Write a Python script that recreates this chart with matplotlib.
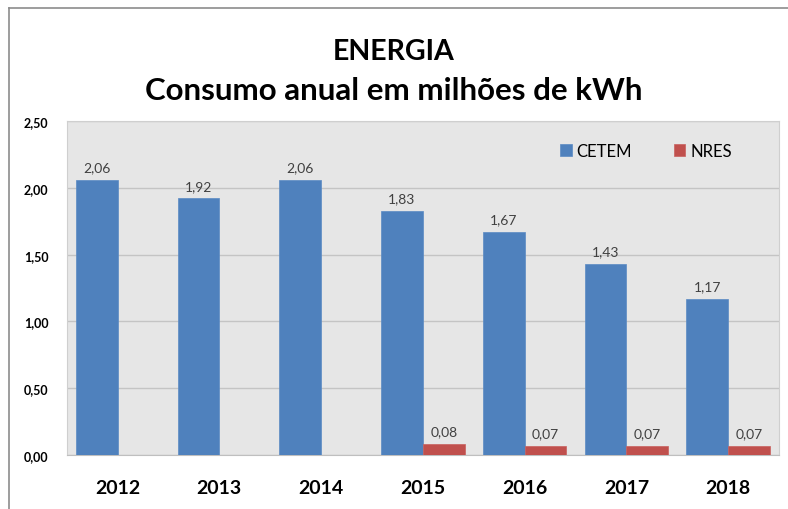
import matplotlib.pyplot as plt
import numpy as np

plt.rcParams['font.family'] = ['Lato', 'DejaVu Sans']

years = ['2012', '2013', '2014', '2015', '2016', '2017', '2018']
cetem = [2.06, 1.92, 2.06, 1.83, 1.67, 1.43, 1.17]
nres = [None, None, None, 0.08, 0.07, 0.07, 0.07]
y_ticks = [0.0, 0.5, 1.0, 1.5, 2.0, 2.5]

fig = plt.figure(figsize=(7.88, 5.10), dpi=100)
ax = fig.add_axes([0.0846, 0.1059, 0.9040, 0.6549])

# thin gray frame on top and left of the picture
fig.add_artist(plt.Line2D([0.0108, 1.0], [0.982, 0.982], color='#8c8c8c', lw=1.2))
fig.add_artist(plt.Line2D([0.0108, 0.0108], [0.0, 0.982], color='#8c8c8c', lw=1.2))

x = np.arange(len(years))
w = 0.41
blue = '#4f81bd'
red = '#c0504d'

nres_vals = [v if v is not None else 0 for v in nres]
ax.bar(x - w / 2, cetem, w, color=blue, edgecolor='#5a8ac4', lw=0.5, label='CETEM', zorder=3)
ax.bar(x + w / 2, nres_vals, w, color=red, edgecolor='#c9605d', lw=0.5, label='NRES', zorder=3)

for xi, v in zip(x, cetem):
    ax.text(xi - w / 2, v + 0.05, f'{v:.2f}'.replace('.', ','), ha='center', va='bottom',
            fontsize=10, color='#404040')
for xi, v in zip(x, nres):
    if v is None:
        continue
    ax.text(xi + w / 2, v + 0.05, f'{v:.2f}'.replace('.', ','), ha='center', va='bottom',
            fontsize=10, color='#404040')

ax.set_facecolor('#e6e6e6')
ax.set_xlim(-0.5, len(years) - 0.5)
ax.set_ylim(0, 2.5)
ax.set_yticks(y_ticks)
ax.set_yticklabels([f'{t:.2f}'.replace('.', ',') for t in y_ticks], fontsize=9, fontweight='bold')
ax.set_xticks(x)
ax.set_xticklabels(years, fontsize=14, fontweight='bold')
ax.tick_params(axis='both', length=0)
ax.tick_params(axis='x', pad=17)
ax.tick_params(axis='y', pad=13)
ax.grid(axis='y', color='#c4c4c4', lw=1.0, zorder=0)
for s in ax.spines.values():
    s.set_color('#cfcfcf')
    s.set_linewidth(0.8)
ax.spines['bottom'].set_color('#bfbfbf')

ax.legend(ncol=2, frameon=False, loc='upper right', bbox_to_anchor=(0.955, 0.98),
          fontsize=12, handlelength=0.7, handleheight=0.7, handletextpad=0.3,
          columnspacing=2.5)

fig.text(0.5, 0.882, 'ENERGIA', ha='center', va='baseline', fontsize=20.5, fontweight='bold')
fig.text(0.5, 0.804, 'Consumo anual em milhões de kWh', ha='center', va='baseline',
         fontsize=22.5, fontweight='bold')

fig.savefig('out.png', dpi=100)
